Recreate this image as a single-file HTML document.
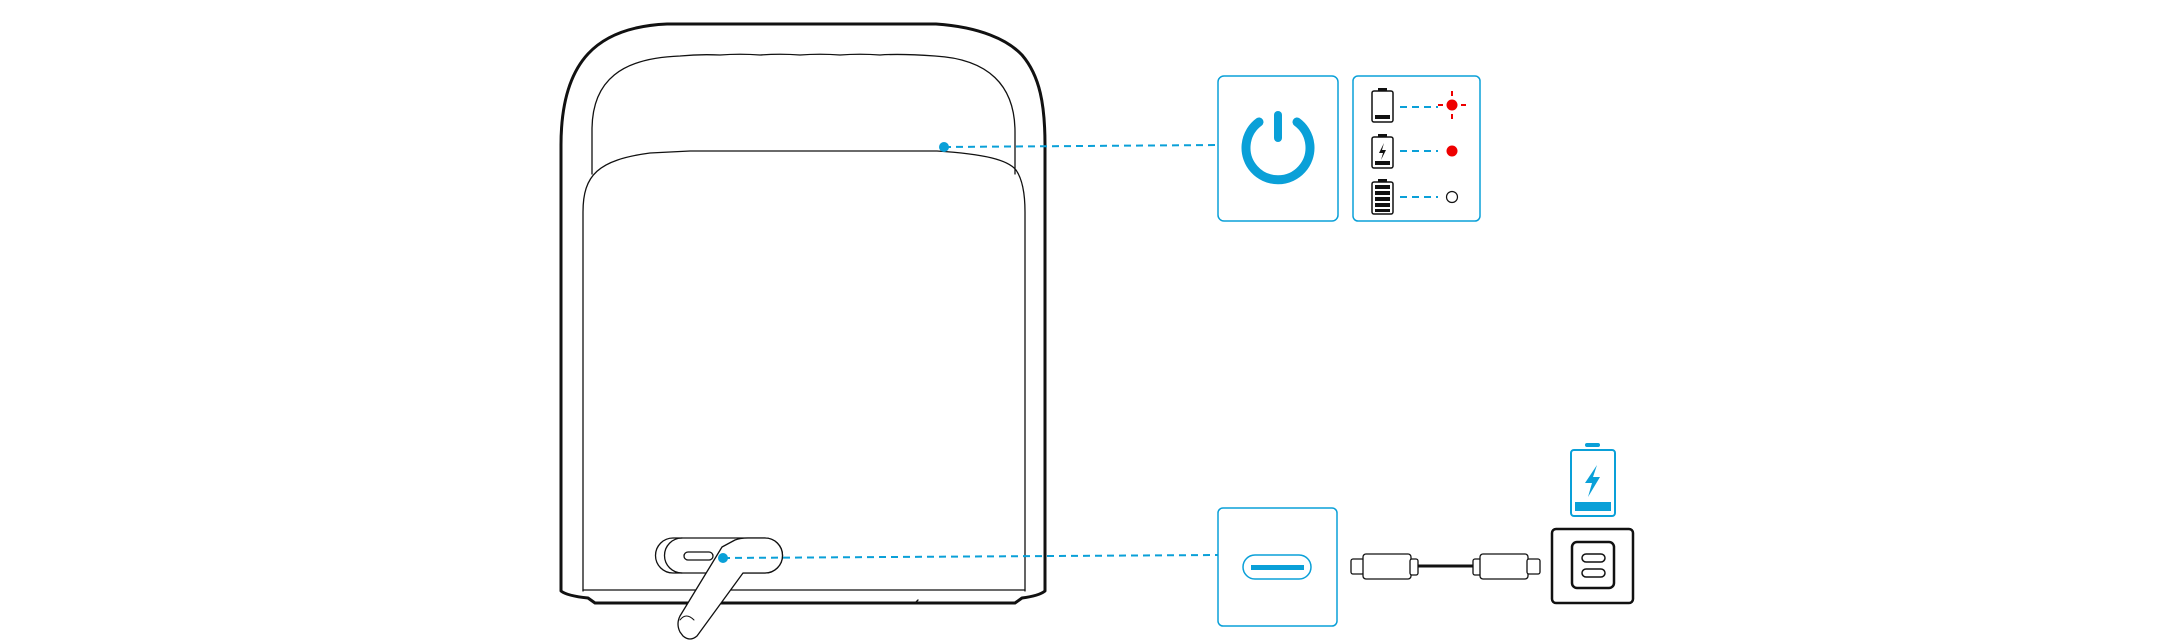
<!DOCTYPE html>
<html><head><meta charset="utf-8"><style>html,body{margin:0;padding:0;background:#fff}svg{display:block}</style></head>
<body>
<svg width="2180" height="644" viewBox="0 0 2180 644" xmlns="http://www.w3.org/2000/svg">
<g fill="none" stroke="#111" stroke-linejoin="round" stroke-linecap="round">
  <!-- outer body -->
  <path d="M561,591 L561,145 C561,60 598,27 667,24 L936,24 C980,27 1008,40 1022,55 C1040,76 1045,105 1045,145 L1045,591 C1040,595 1030,597 1022,598 L1015,603 L595,603 L588,598 C578,597 566,595 561,591 Z" stroke-width="3"/>
  <!-- inner wavy top -->
  <path d="M592,174 L592,130 C592,80 622,58 680,56 Q700,54 720,55 Q740,53.5 760,55 Q780,53.5 800,55 Q820,53.5 840,55 Q860,53.5 880,55 Q900,53.5 935,56 C988,59 1015,85 1015,132 L1015,174" stroke-width="1.3"/>
  <!-- front panel -->
  <path d="M583,591 L583,212 C583,175 598,160 650,153 L690,151 L937,151 C985,154 1008,160 1016,170 C1023,180 1025,195 1025,212 L1025,591" stroke-width="1.3"/>
  <line x1="583" y1="590" x2="1025" y2="590" stroke-width="1.3"/>
  <line x1="915" y1="603" x2="918" y2="600" stroke-width="1.3"/>
  <!-- port pill -->
  <path d="M673,538 L765,538 A17,17 0 0 1 765,573 L673,573 A17.5,17.5 0 0 1 673,538 Z" stroke-width="1.3"/>
  <path d="M682,538 A17.5,17.5 0 0 0 682,573" stroke-width="1.3"/>
  <rect x="684" y="552" width="29" height="8" rx="4" stroke-width="1.3"/>
  <!-- lever -->
  <path d="M722,547 L735,540 Q740,538 748,538 L765,538 A17,17 0 0 1 765,573 L743,573 L697,636 Q690,642 683,636 L680,632 Q676,624 680,616 L722,547 Z" fill="#fff" stroke-width="1.3"/>
  <path d="M680,620 Q686,612 694,620" stroke-width="1"/>
</g>
<!-- connectors -->
<g stroke="#0aa0d8" stroke-width="2" stroke-dasharray="7,5" fill="none">
  <line x1="944" y1="147" x2="1218" y2="145"/>
  <line x1="723" y1="558" x2="1218" y2="555"/>
  <line x1="1400" y1="107" x2="1438" y2="107"/>
  <line x1="1400" y1="151" x2="1438" y2="151"/>
  <line x1="1400" y1="197" x2="1438" y2="197"/>
</g>
<circle cx="944" cy="147" r="5" fill="#0aa0d8"/>
<circle cx="723" cy="558" r="5" fill="#0aa0d8"/>
<!-- power box -->
<rect x="1218" y="76" width="120" height="145" rx="6" fill="none" stroke="#0aa0d8" stroke-width="1.5"/>
<path d="M1259,122 A32,32 0 1 0 1297,122" fill="none" stroke="#0aa0d8" stroke-width="9" stroke-linecap="round"/>
<line x1="1278" y1="115" x2="1278" y2="138" stroke="#0aa0d8" stroke-width="8" stroke-linecap="round"/>
<!-- LED box -->
<rect x="1353" y="76" width="127" height="145" rx="5" fill="none" stroke="#0aa0d8" stroke-width="1.5"/>
<g fill="none" stroke="#111" stroke-width="1.5">
  <rect x="1372" y="91" width="21" height="31" rx="2"/>
  <rect x="1372" y="137" width="21" height="31" rx="2"/>
  <rect x="1372" y="182" width="21" height="32" rx="2"/>
</g>
<g fill="#111">
  <rect x="1378" y="88" width="9" height="3"/>
  <rect x="1378" y="134" width="9" height="3"/>
  <rect x="1378" y="179" width="9" height="3"/>
  <rect x="1375" y="115" width="15" height="4"/>
  <rect x="1375" y="161" width="15" height="4"/>
  <path d="M1384,143 L1379,153 L1383,153 L1381,160 L1386,150 L1382,150 Z"/>
  <rect x="1375" y="185" width="15" height="4"/><rect x="1375" y="191" width="15" height="4"/>
  <rect x="1375" y="197" width="15" height="4"/><rect x="1375" y="203" width="15" height="4"/>
  <rect x="1375" y="209" width="15" height="3"/>
</g>
<g stroke="#e00" stroke-width="2">
  <line x1="1452" y1="91" x2="1452" y2="96"/><line x1="1452" y1="114" x2="1452" y2="119"/>
  <line x1="1438" y1="105" x2="1443" y2="105"/><line x1="1461" y1="105" x2="1466" y2="105"/>
</g>
<circle cx="1452" cy="105" r="5.5" fill="#e00"/>
<circle cx="1452" cy="151" r="5.5" fill="#e00"/>
<circle cx="1452" cy="197" r="5.5" fill="none" stroke="#111" stroke-width="1.2"/>
<!-- port box -->
<rect x="1218" y="508" width="119" height="118" rx="5" fill="none" stroke="#0aa0d8" stroke-width="1.5"/>
<rect x="1243" y="555" width="68" height="24" rx="12" fill="none" stroke="#0aa0d8" stroke-width="1.5"/>
<rect x="1251" y="565" width="53" height="5" fill="#0aa0d8"/>
<!-- cable -->
<g fill="#fff" stroke="#111" stroke-width="1.3">
  <line x1="1410" y1="566" x2="1480" y2="566" stroke-width="3"/>
  <rect x="1351" y="559" width="13" height="15" rx="2"/>
  <rect x="1363" y="554" width="48" height="25" rx="3"/>
  <rect x="1410" y="559" width="8" height="16" rx="2"/>
  <rect x="1473" y="559" width="8" height="16" rx="2"/>
  <rect x="1480" y="554" width="48" height="25" rx="3"/>
  <rect x="1527" y="559" width="13" height="15" rx="2"/>
</g>
<!-- charger -->
<rect x="1552" y="529" width="81" height="74" rx="4" fill="none" stroke="#111" stroke-width="2.5"/>
<rect x="1572" y="542" width="42" height="46" rx="5" fill="none" stroke="#111" stroke-width="2.5"/>
<rect x="1582" y="554" width="23" height="8" rx="4" fill="none" stroke="#111" stroke-width="1.5"/>
<rect x="1582" y="569" width="23" height="8" rx="4" fill="none" stroke="#111" stroke-width="1.5"/>
<!-- blue battery -->
<rect x="1585" y="443" width="15" height="4" rx="2" fill="#0aa0d8"/>
<rect x="1571" y="450" width="44" height="66" rx="3" fill="none" stroke="#0aa0d8" stroke-width="2"/>
<rect x="1575" y="502" width="36" height="9" fill="#0aa0d8"/>
<path d="M1597,465 L1585,483 L1592,483 L1588,497 L1600,477 L1593,477 Z" fill="#0aa0d8"/>
</svg>
</body></html>
